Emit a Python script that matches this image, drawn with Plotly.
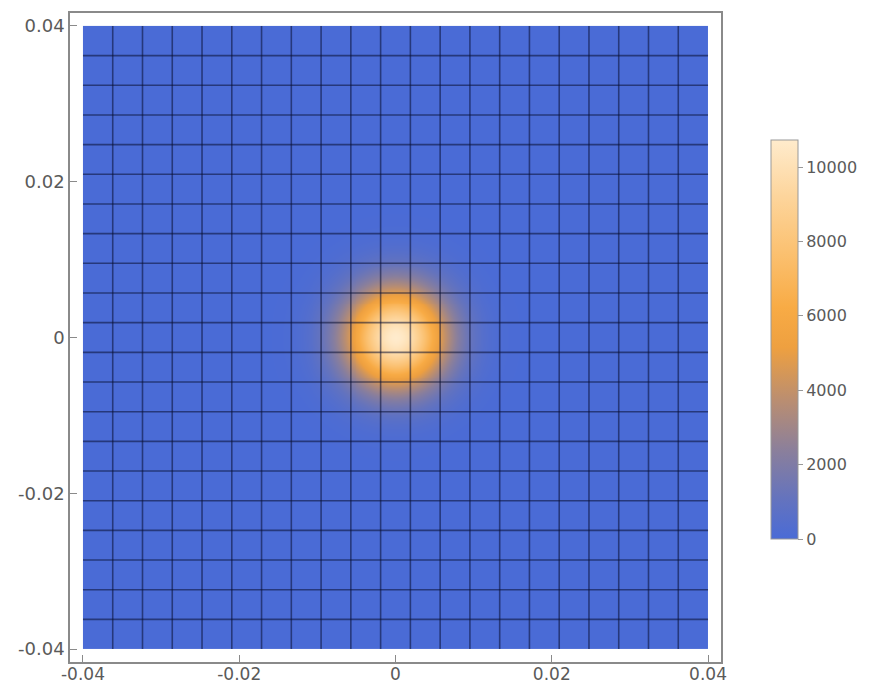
import numpy as np
import plotly.graph_objects as go

# ---- data ----
x_range = [-0.04, 0.04]          # plotted domain in x
y_range = [-0.04, 0.04]          # plotted domain in y
peak_value = 10730.0             # maximum of the density (top of colour bar)
center = [0.0, 0.0]              # centre of the bright spot
sigma = 0.0045                   # width of the Gaussian spot
mesh_lines = 20                  # interior mesh lines per direction
tick_vals = [-0.04, -0.02, 0.0, 0.02, 0.04]
tick_text = ["-0.04", "-0.02", "0", "0.02", "0.04"]
cbar_tick_vals = [0, 2000, 4000, 6000, 8000, 10000]
cbar_tick_text = ["0", "2000", "4000", "6000", "8000", "10000"]

# ---- grid ----
N = 320
xe = np.linspace(x_range[0], x_range[1], N + 1)
ye = np.linspace(y_range[0], y_range[1], N + 1)
xc = 0.5 * (xe[:-1] + xe[1:])
yc = 0.5 * (ye[:-1] + ye[1:])
X, Y = np.meshgrid(xc, yc)
Z = peak_value * np.exp(-((X - center[0]) ** 2 + (Y - center[1]) ** 2) / (2 * sigma ** 2))

colorscale = [
    [0.00, "#4a6bd6"],
    [0.10, "#6473be"],
    [0.22, "#8a7f9c"],
    [0.35, "#bb8e70"],
    [0.48, "#eea040"],
    [0.58, "#f8ab45"],
    [0.72, "#fbc171"],
    [0.86, "#fdd59c"],
    [1.00, "#ffebcc"],
]

# page has an 8px body margin: figure coordinates = window coordinates - 8
W, H = 860, 677
fl, fr, ft, fb = 62, 713, 5, 654   # frame box in figure pixels

fig = go.Figure()
fig.add_trace(go.Heatmap(
    x=xe, y=ye, z=Z,
    colorscale=colorscale, zmin=0, zmax=peak_value,
    zsmooth="best",
    colorbar=dict(
        thickness=27, thicknessmode="pixels",
        len=399, lenmode="pixels",
        xpad=0, ypad=0,
        x=(763 - fl) / (fr - fl), xanchor="left",
        y=(fb - 331.5) / (fb - ft), yanchor="middle",
        outlinecolor="#999999", outlinewidth=1,
        tickvals=cbar_tick_vals, ticktext=cbar_tick_text,
        ticks="outside", ticklen=5, tickcolor="#999999",
        tickfont=dict(family="DejaVu Sans", size=16, color="#5a5a5a"),
    ),
    hoverinfo="skip",
))

# mesh lines
mx = np.linspace(x_range[0], x_range[1], mesh_lines + 2)[1:-1]
my = np.linspace(y_range[0], y_range[1], mesh_lines + 2)[1:-1]
lx, ly = [], []
for v in mx:
    lx += [v, v, None]
    ly += [y_range[0], y_range[1], None]
for v in my:
    lx += [x_range[0], x_range[1], None]
    ly += [v, v, None]
fig.add_trace(go.Scatter(x=lx, y=ly, mode="lines",
                         line=dict(color="rgba(10,15,50,0.55)", width=1.6),
                         hoverinfo="skip", showlegend=False))

pad = 0.00166
axis_common = dict(
    showgrid=False, zeroline=False, automargin=False,
    showline=True, mirror=True, linecolor="#8a8a8a", linewidth=1.5,
    ticks="inside", ticklen=7, tickcolor="#8a8a8a", tickwidth=1,
    tickvals=tick_vals, ticktext=tick_text,
)
fig.update_layout(
    width=W, height=H,
    margin=dict(l=fl, r=W - fr, t=ft, b=H - fb, autoexpand=False),
    paper_bgcolor="white", plot_bgcolor="white",
    xaxis=dict(range=[x_range[0] - pad, x_range[1] + pad],
               tickfont=dict(family="DejaVu Sans", size=17, color="#5a5a5a"),
               ticklabelstandoff=-4, **axis_common),
    yaxis=dict(range=[y_range[0] - pad, y_range[1] + pad],
               tickfont=dict(family="DejaVu Sans", size=18, color="#5a5a5a"),
               **axis_common),
    showlegend=False,
)
fig.write_html("out.html")
